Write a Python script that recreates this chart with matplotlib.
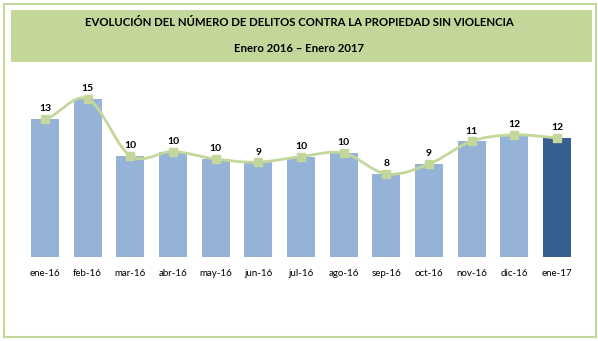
import numpy as np
import matplotlib
matplotlib.use("Agg")
from matplotlib import pyplot as plt
from matplotlib.patches import Rectangle

months = ["ene-16", "feb-16", "mar-16", "abr-16", "may-16", "jun-16", "jul-16",
          "ago-16", "sep-16", "oct-16", "nov-16", "dic-16", "ene-17"]
delitos = [13.47, 15.46, 9.87, 10.29, 9.55, 9.25, 9.8, 10.14, 8.1, 9.06, 11.31, 11.93, 11.64]

title = "EVOLUCIÓN DEL NÚMERO DE DELITOS CONTRA LA PROPIEDAD SIN VIOLENCIA"
subtitle = "Enero 2016 – Enero 2017"

light_blue = "#95b3d7"
dark_blue = "#366092"
green = "#c4d79b"

plt.rcParams["font.family"] = ["Lato", "DejaVu Sans"]

W, H = 598, 341
fig = plt.figure(figsize=(W / 100, H / 100), dpi=100)


def fx(px):
    return px / W


def fy(py):
    return 1 - py / H


# outer border and title band
fig.patches.append(Rectangle((fx(4), fy(337)), fx(592), 333 / H, transform=fig.transFigure,
                             fill=False, edgecolor=green, linewidth=1.5))
fig.patches.append(Rectangle((fx(11), fy(62)), fx(581), 52 / H, transform=fig.transFigure,
                             facecolor=green, edgecolor="none"))
fig.text(0.5, fy(23), title, ha="center", va="center", fontsize=8.2, fontweight="bold")
fig.text(0.5, fy(48), subtitle, ha="center", va="center", fontsize=8.2, fontweight="bold")

# axes: x pixel = 45 + 42.67*i, baseline y=256.5, 10.2 px per unit
step = 42.67
x0 = 45 - 0.6 * step
x1 = 45 + 12.6 * step
ytop = 17
ax = fig.add_axes([fx(x0), fy(256.5), (x1 - x0) / W, ytop * 10.2 / H])
ax.set_xlim(-0.6, 12.6)
ax.set_ylim(0, ytop)

x = np.arange(len(months))
colors = [light_blue] * (len(months) - 1) + [dark_blue]
ax.bar(x, delitos, width=0.66, color=colors, edgecolor="none", zorder=1)

# smoothed line (Catmull-Rom through data points)
pts = np.array(delitos)
xs, ys = [], []
for i in range(len(pts) - 1):
    p0 = pts[i - 1] if i > 0 else pts[i]
    p1, p2 = pts[i], pts[i + 1]
    p3 = pts[i + 2] if i + 2 < len(pts) else pts[i + 1]
    t = np.linspace(0, 1, 30)
    yv = 0.5 * ((2 * p1) + (-p0 + p2) * t + (2 * p0 - 5 * p1 + 4 * p2 - p3) * t ** 2
                + (-p0 + 3 * p1 - 3 * p2 + p3) * t ** 3)
    xs.extend(i + t)
    ys.extend(yv)
ax.plot(xs, ys, color=green, linewidth=2, zorder=2)
ax.plot(x, delitos, linestyle="none", marker="s", markersize=6, color=green, zorder=3)

for xi, v in zip(x, delitos):
    ax.text(xi, v + 0.55, "%.0f" % v, ha="center", va="bottom", fontsize=7.5, fontweight="bold")

ax.set_xticks(x)
ax.set_xticklabels(months, fontsize=7)
ax.tick_params(axis="x", length=0, pad=9)
ax.set_yticks([])
for s in ax.spines.values():
    s.set_visible(False)
ax.patch.set_alpha(0)

plt.savefig("out.png", dpi=100)
